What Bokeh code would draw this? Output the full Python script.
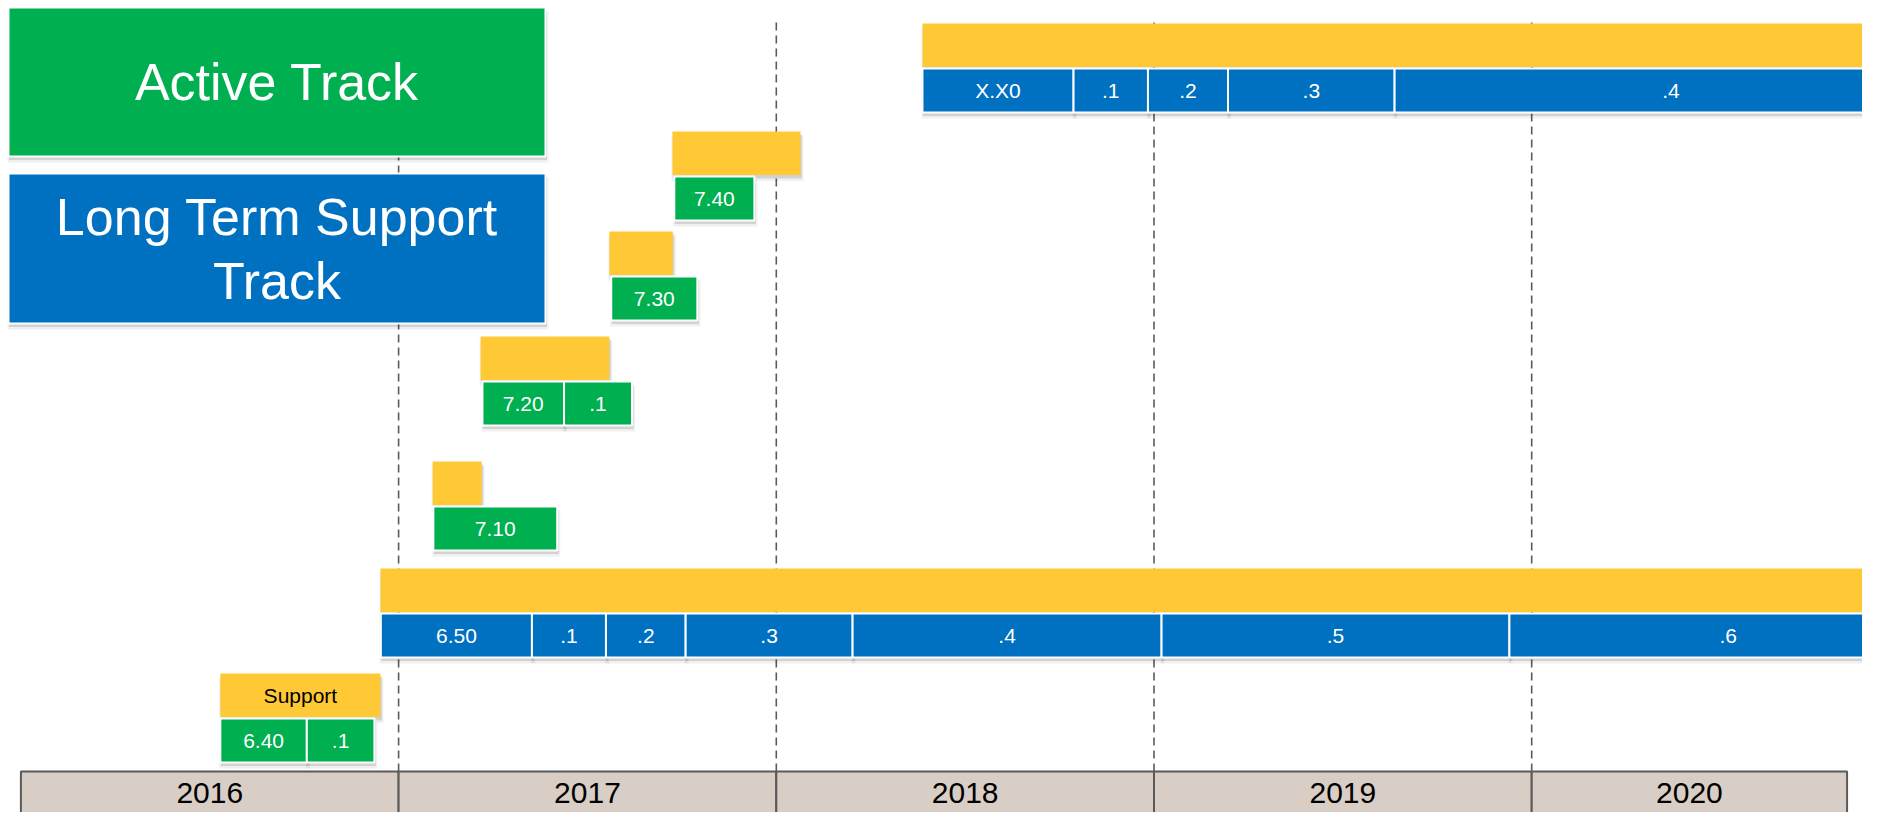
from bokeh.plotting import figure
from bokeh.models import ColumnDataSource, Range1d
from bokeh.core.properties import value
from bokeh.embed import file_html
from bokeh.resources import INLINE

# ---------------- data ----------------
years = ["2016", "2017", "2018", "2019", "2020"]
year_starts = [2016.0, 2017.0, 2018.0, 2019.0, 2020.0]
timeline_end = 2020.835

releases = ["6.40", "6.50", "7.10", "7.20", "7.30", "7.40", "X.X0"]
release_track = ["active", "lts", "active", "active", "active", "active", "lts"]
support_start = [2016.528, 2016.952, 2017.090, 2017.217, 2017.558, 2017.725, 2018.387]
support_end = [2016.952, 2021.100, 2017.220, 2017.558, 2017.726, 2018.064, 2021.100]
support_label = ["Support", "", "", "", "", "", ""]

sp_release = ["6.40", "6.40",
              "6.50", "6.50", "6.50", "6.50", "6.50", "6.50", "6.50",
              "7.10", "7.20", "7.20", "7.30", "7.40",
              "X.X0", "X.X0", "X.X0", "X.X0", "X.X0"]
sp_label = ["6.40", ".1",
            "6.50", ".1", ".2", ".3", ".4", ".5", ".6",
            "7.10", "7.20", ".1", "7.30", "7.40",
            "X.X0", ".1", ".2", ".3", ".4"]
sp_start = [2016.528, 2016.757,
            2016.953, 2017.353, 2017.549, 2017.760, 2018.202, 2019.020, 2019.941,
            2017.092, 2017.222, 2017.438, 2017.563, 2017.730,
            2018.387, 2018.787, 2018.984, 2019.196, 2019.637]
sp_end = [2016.757, 2016.936,
          2017.353, 2017.549, 2017.760, 2018.202, 2019.020, 2019.941, 2021.100,
          2017.420, 2017.438, 2017.618, 2017.791, 2017.942,
          2018.787, 2018.984, 2019.196, 2019.637, 2021.100]

legend_tracks = ["active", "lts"]
legend_lines = [["Active Track"], ["Long Term Support", "Track"]]

# ---------------- layout / style ----------------
W, H = 1862, 812
X0_PAGE = 20.4       # pixel x of the start of 2016
YEAR_PX = 377.7      # pixels per year
PX = 1.0 / YEAR_PX   # one pixel in years

GREEN = "#00AF50"
BLUE = "#0070C0"
YELLOW = "#FFC935"
BEIGE = "#D8CEC5"
DARK = "#5A5A5A"
FONT = value("Liberation Sans")
track_color = {"active": GREEN, "lts": BLUE}

ROW_BOX_TOP = {"6.40": 718, "6.50": 613, "7.10": 506, "7.20": 381,
               "7.30": 276, "7.40": 176, "X.X0": 68}
BOX_H = 44
SUP_H = 43.5
SUP_GAP = 1.5

LEGEND_BOX = {"active": (8, 545, 7, 156), "lts": (8, 545, 173, 323)}
LEGEND_LINE_STEP = 64

YEAR_BAR_TOP = 771
YEAR_LABEL_Y = 792
DASH_TOP = 18

x_start = 2016 + (0 - X0_PAGE) / YEAR_PX
x_end = 2016 + (W - X0_PAGE) / YEAR_PX

p = figure(width=W, height=H, x_range=Range1d(x_start, x_end),
           y_range=Range1d(H, 0),
           output_backend="svg", toolbar_location=None,
           x_axis_location=None, y_axis_location=None,
           min_border=0, outline_line_color=None)
p.grid.visible = False
p.background_fill_color = "white"
p.border_fill_color = "white"
p.extra_x_ranges = {"px": Range1d(0, W)}

# ---- dashed year lines ----
bounds = year_starts[1:]
p.segment(x0=bounds, x1=bounds, y0=[YEAR_BAR_TOP] * len(bounds), y1=[DASH_TOP] * len(bounds),
          line_color=DARK, line_width=1.6, line_dash="8 5")


def shadow(left, right, top, bottom, x_range_name="default", unit=PX):
    for off, grow, alpha in [(4, 2, 0.06), (3, 0.5, 0.12)]:
        kw = {} if x_range_name == "default" else {"x_range_name": x_range_name}
        p.quad(left=[l + (1 - grow) * unit for l in left],
               right=[r + (1 + grow) * unit for r in right],
               top=[t + off for t in top], bottom=[b + off + grow for b in bottom],
               fill_color="black", fill_alpha=alpha, line_color=None, **kw)


# ---- legend boxes ----
lg_l = [LEGEND_BOX[t][0] for t in legend_tracks]
lg_r = [LEGEND_BOX[t][1] for t in legend_tracks]
lg_t = [LEGEND_BOX[t][2] for t in legend_tracks]
lg_b = [LEGEND_BOX[t][3] for t in legend_tracks]
shadow(lg_l, lg_r, lg_t, lg_b, x_range_name="px", unit=1)
p.quad(left=lg_l, right=lg_r, top=lg_t, bottom=lg_b, x_range_name="px",
       fill_color=[track_color[t] for t in legend_tracks],
       line_color="white", line_width=2)
lt_x, lt_y, lt_txt = [], [], []
for t, lines in zip(legend_tracks, legend_lines):
    l, r, top, bot = LEGEND_BOX[t]
    cy = (top + bot) / 2 - (len(lines) - 1) * LEGEND_LINE_STEP / 2
    for i, s in enumerate(lines):
        lt_x.append((l + r) / 2)
        lt_y.append(cy + i * LEGEND_LINE_STEP)
        lt_txt.append(s)
p.text(x=lt_x, y=lt_y, text=lt_txt, x_range_name="px", text_font=FONT,
       text_font_size="52px", text_color="white", text_align="center",
       text_baseline="middle")

# ---- support (yellow) bars ----
sup_top = [ROW_BOX_TOP[r] - SUP_GAP - SUP_H for r in releases]
sup_bot = [ROW_BOX_TOP[r] - SUP_GAP for r in releases]
shadow(support_start, support_end, sup_top, sup_bot)
sup_src = ColumnDataSource(dict(left=support_start, right=support_end, top=sup_top,
                                bottom=sup_bot, label=support_label,
                                xc=[(a + b) / 2 for a, b in zip(support_start, support_end)],
                                yc=[(a + b) / 2 for a, b in zip(sup_top, sup_bot)]))
p.quad(left="left", right="right", top="top", bottom="bottom", source=sup_src,
       fill_color=YELLOW, line_color=None)
p.text(x="xc", y="yc", text="label", source=sup_src, text_font=FONT,
       text_font_size="21px", text_color="black", text_align="center",
       text_baseline="middle")

# ---- release / service pack boxes ----
rel_track = dict(zip(releases, release_track))
box_top = [ROW_BOX_TOP[r] for r in sp_release]
box_bot = [ROW_BOX_TOP[r] + BOX_H for r in sp_release]
shadow(sp_start, sp_end, box_top, box_bot)
box_src = ColumnDataSource(dict(left=sp_start, right=sp_end, top=box_top, bottom=box_bot,
                                label=sp_label,
                                color=[track_color[rel_track[r]] for r in sp_release],
                                xc=[(a + b) / 2 for a, b in zip(sp_start, sp_end)],
                                yc=[t + BOX_H / 2 for t in box_top]))
p.quad(left="left", right="right", top="top", bottom="bottom", source=box_src,
       fill_color="color", line_color="white", line_width=2)
p.text(x="xc", y="yc", text="label", source=box_src, text_font=FONT,
       text_font_size="21px", text_color="white", text_align="center",
       text_baseline="middle")

# ---- year bar ----
yr_end = [min(s + 1, timeline_end) for s in year_starts]
yr_src = ColumnDataSource(dict(left=year_starts, right=yr_end,
                               top=[YEAR_BAR_TOP] * len(years),
                               bottom=[H + 20] * len(years),
                               label=years,
                               xc=[(a + b) / 2 for a, b in zip(year_starts, yr_end)],
                               yc=[YEAR_LABEL_Y] * len(years)))
p.quad(left="left", right="right", top="top", bottom="bottom", source=yr_src,
       fill_color=BEIGE, line_color=DARK, line_width=2)
p.text(x="xc", y="yc", text="label", source=yr_src, text_font=FONT,
       text_font_size="30px", text_color="black", text_align="center",
       text_baseline="middle")

open("out.html", "w").write(file_html(p, INLINE))
